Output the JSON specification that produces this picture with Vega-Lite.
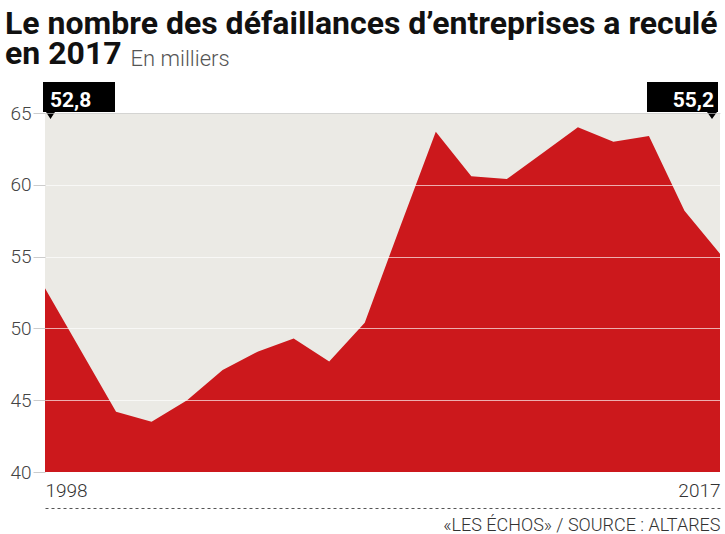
{
  "$schema": "https://vega.github.io/schema/vega-lite/v6.json",
  "width": 675,
  "height": 359,
  "autosize": {"type": "none"},
  "padding": {"left": 45, "top": 113, "right": 5, "bottom": 62},
  "background": "white",
  "config": {"view": {"fill": "#ebeae5", "stroke": null}},
  "title": {
    "text": ["Le nombre des défaillances d’entreprises a reculé", "en 2017"],
    "anchor": "start",
    "frame": "group",
    "dx": -40,
    "dy": 34,
    "font": "Roboto",
    "fontWeight": "bold",
    "fontSize": 32,
    "lineHeight": 30,
    "color": "#111111",
    "offset": 10
  },
  "datasets": {
    "series": [
      {"year": 1998, "value": 52.8},
      {"year": 1999, "value": 48.5},
      {"year": 2000, "value": 44.2},
      {"year": 2001, "value": 43.5},
      {"year": 2002, "value": 45.0},
      {"year": 2003, "value": 47.1},
      {"year": 2004, "value": 48.4},
      {"year": 2005, "value": 49.3},
      {"year": 2006, "value": 47.7},
      {"year": 2007, "value": 50.4},
      {"year": 2008, "value": 57.1},
      {"year": 2009, "value": 63.7},
      {"year": 2010, "value": 60.6},
      {"year": 2011, "value": 60.4},
      {"year": 2012, "value": 62.2},
      {"year": 2013, "value": 64.0},
      {"year": 2014, "value": 63.0},
      {"year": 2015, "value": 63.4},
      {"year": 2016, "value": 58.2},
      {"year": 2017, "value": 55.2}
    ],
    "labels": [
      {"year": 1998, "label": "52,8", "side": "left"},
      {"year": 2017, "label": "55,2", "side": "right"}
    ]
  },
  "layer": [
    {
      "data": {"name": "series"},
      "mark": {"type": "area", "color": "#cc181c", "clip": true, "interpolate": "linear"},
      "encoding": {
        "x": {
          "field": "year",
          "type": "quantitative",
          "scale": {"domain": [1998, 2017], "nice": false},
          "axis": {
            "values": [1998, 2017],
            "format": "d",
            "labelFlush": true,
            "ticks": false,
            "grid": false,
            "offset": 36,
            "domainDash": [3, 3],
            "domainColor": "#555555",
            "domainWidth": 1,
            "labelPadding": -12,
            "labelBaseline": "alphabetic",
            "labelFont": "Roboto",
            "labelFontWeight": 300,
            "labelFontSize": 19,
            "labelColor": "#333333",
            "title": "«LES ÉCHOS»  / SOURCE : ALTARES",
            "titleAnchor": "end",
            "titleAlign": "right",
            "titleX": 675,
            "titleY": 22,
            "titleBaseline": "alphabetic",
            "titleFont": "Roboto",
            "titleFontWeight": 300,
            "titleFontSize": 18,
            "titleColor": "#333333"
          }
        },
        "y": {
          "field": "value",
          "type": "quantitative",
          "scale": {"domain": [40, 65], "zero": false, "nice": false},
          "axis": {
            "values": [40, 45, 50, 55, 60, 65],
            "grid": true,
            "gridColor": {"condition": {"test": "datum.value === 65", "value": "#c8c8c8"}, "value": "#ffffff"},
            "gridOpacity": 0.65,
            "zindex": 1,
            "domain": false,
            "tickSize": 12,
            "tickColor": "#cccccc",
            "labelPadding": 2,
            "labelFont": "Roboto",
            "labelFontWeight": 300,
            "labelFontSize": 19,
            "labelColor": "#444444",
            "title": "En milliers",
            "titleAngle": 0,
            "titleX": 85,
            "titleY": -48,
            "titleAlign": "left",
            "titleBaseline": "alphabetic",
            "titleFont": "Roboto",
            "titleFontWeight": 300,
            "titleFontSize": 22,
            "titleColor": "#555555"
          }
        },
        "y2": {"datum": 40}
      }
    },
    {
      "data": {"name": "labels"},
      "transform": [{"filter": "datum.side === 'left'"}],
      "mark": {"type": "point", "filled": true, "color": "#000000", "opacity": 1, "size": 4, "shape": "M-2,-31H70V-1H10L5.5,6L1,-1H-2Z"},
      "encoding": {
        "x": {"field": "year", "type": "quantitative"},
        "y": {"datum": 65}
      }
    },
    {
      "data": {"name": "labels"},
      "transform": [{"filter": "datum.side === 'right'"}],
      "mark": {"type": "point", "filled": true, "color": "#000000", "opacity": 1, "size": 4, "shape": "M-73,-31H-2V-1H-3L-8,6L-13,-1H-73Z"},
      "encoding": {
        "x": {"field": "year", "type": "quantitative"},
        "y": {"datum": 65}
      }
    },
    {
      "data": {"name": "labels"},
      "transform": [{"filter": "datum.side === 'left'"}],
      "mark": {"type": "text", "align": "left", "baseline": "alphabetic", "dx": 5, "dy": -6, "font": "Roboto", "fontWeight": "bold", "fontSize": 21, "color": "#ffffff"},
      "encoding": {
        "x": {"field": "year", "type": "quantitative"},
        "y": {"datum": 65},
        "text": {"field": "label"}
      }
    },
    {
      "data": {"name": "labels"},
      "transform": [{"filter": "datum.side === 'right'"}],
      "mark": {"type": "text", "align": "right", "baseline": "alphabetic", "dx": -6, "dy": -6, "font": "Roboto", "fontWeight": "bold", "fontSize": 21, "color": "#ffffff"},
      "encoding": {
        "x": {"field": "year", "type": "quantitative"},
        "y": {"datum": 65},
        "text": {"field": "label"}
      }
    }
  ]
}
